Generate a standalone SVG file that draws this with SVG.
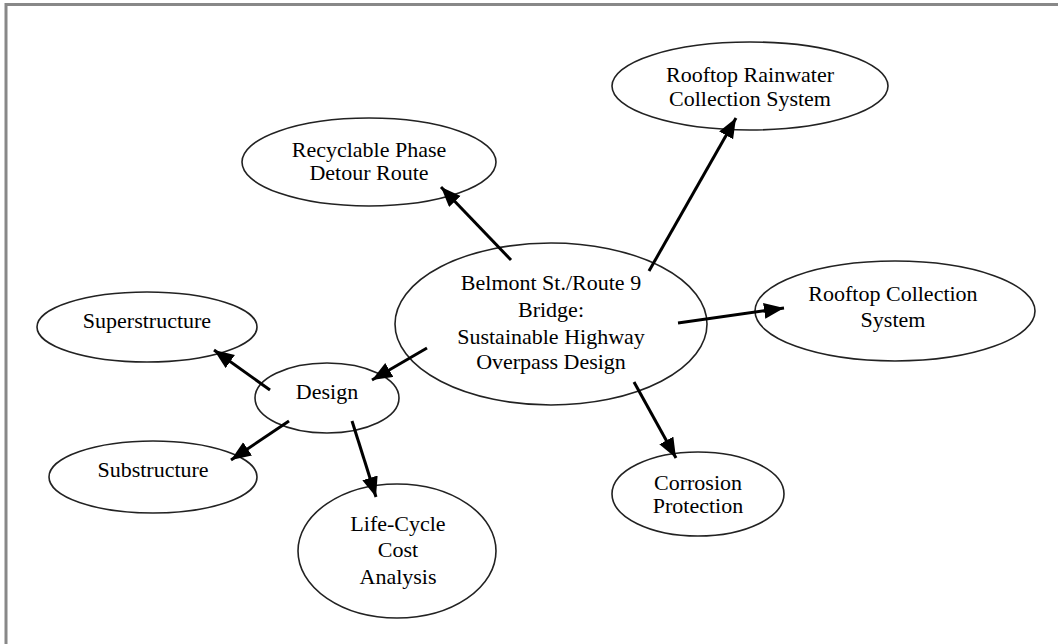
<svg xmlns="http://www.w3.org/2000/svg" width="1058" height="644" viewBox="0 0 1058 644">
<style>
.n ellipse{fill:#fff;stroke:#222;stroke-width:1.6}
.n text{font-family:"Liberation Serif","Times New Roman",serif;font-size:22px;fill:#000;text-anchor:middle}
.c line{stroke:#000;stroke-width:3;marker-end:url(#ah)}
.frame{stroke:#888;stroke-width:3;fill:none}
</style>
<defs>
<marker id="ah" markerUnits="userSpaceOnUse" markerWidth="21" markerHeight="17" refX="20" refY="8" orient="auto">
<path d="M0,0 L20,8 L0,16 z" fill="#000"/>
</marker>
</defs>
<rect width="1058" height="644" fill="#fff"/>
<path class="frame" d="M6,644 V4.5 H1058"/>
<g id="center" class="n">
<ellipse cx="551" cy="324" rx="156" ry="81"/>
<text x="551" y="290">Belmont St./Route 9</text>
<text x="551" y="317">Bridge:</text>
<text x="551" y="344">Sustainable Highway</text>
<text x="551" y="369">Overpass Design</text>
</g>
<g id="recyclable" class="n">
<ellipse cx="369" cy="162" rx="127" ry="44"/>
<text x="369" y="157">Recyclable Phase</text>
<text x="369" y="180">Detour Route</text>
</g>
<g id="rainwater" class="n">
<ellipse cx="750" cy="86" rx="138" ry="44"/>
<text x="750" y="82">Rooftop Rainwater</text>
<text x="750" y="106">Collection  System</text>
</g>
<g id="rooftop" class="n">
<ellipse cx="895" cy="311" rx="140" ry="50"/>
<text x="893" y="301">Rooftop Collection</text>
<text x="893" y="327">System</text>
</g>
<g id="superstructure" class="n">
<ellipse cx="147" cy="327" rx="110" ry="35"/>
<text x="147" y="328">Superstructure</text>
</g>
<g id="design" class="n">
<ellipse cx="327" cy="398" rx="72" ry="35"/>
<text x="327" y="399">Design</text>
</g>
<g id="substructure" class="n">
<ellipse cx="153" cy="477" rx="104" ry="36"/>
<text x="153" y="477">Substructure</text>
</g>
<g id="lifecycle" class="n">
<ellipse cx="397" cy="551" rx="99" ry="67"/>
<text x="398" y="531">Life-Cycle</text>
<text x="398" y="557">Cost</text>
<text x="398" y="584">Analysis</text>
</g>
<g id="corrosion" class="n">
<ellipse cx="698" cy="494" rx="86" ry="42"/>
<text x="698" y="490">Corrosion</text>
<text x="698" y="513">Protection</text>
</g>
<g id="connectors" class="c">
<line x1="511" y1="260" x2="441" y2="187"/>
<line x1="649" y1="271" x2="736" y2="118"/>
<line x1="678" y1="323" x2="784" y2="308"/>
<line x1="634" y1="382" x2="676" y2="458"/>
<line x1="427" y1="348" x2="372" y2="380"/>
<line x1="270" y1="390" x2="214" y2="350"/>
<line x1="289" y1="421" x2="231" y2="460"/>
<line x1="352" y1="421" x2="376" y2="497"/>
</g>
</svg>
